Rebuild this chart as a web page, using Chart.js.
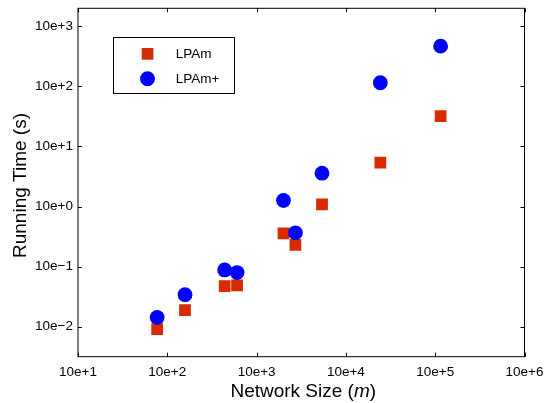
<!DOCTYPE html>
<html>
<head>
<meta charset="utf-8">
<script src="https://cdn.jsdelivr.net/npm/chart.js@4.4.0/dist/chart.umd.min.js"></script>
<style>
  html, body { margin: 0; padding: 0; background: #fff; }
  #wrap { width: 545px; height: 403px; position: relative; }
</style>
</head>
<body>
<div id="wrap"><canvas id="c" width="545" height="403"></canvas></div>
<script>
// ---- data ----
const networkSizes = [77, 158, 439, 605, 2000, 2720, 5400, 24300, 115000];
const lpamTimes = [0.0091, 0.0188, 0.0474, 0.0486, 0.357, 0.229, 1.09, 5.38, 32.0];
const lpamPlusTimes = [0.0142, 0.0341, 0.088, 0.0796, 1.26, 0.365, 3.59, 115, 468];
const seriesNames = ['LPAm', 'LPAm+'];
const xTickValues = [1e1, 1e2, 1e3, 1e4, 1e5, 1e6];
const xTickLabels = ['10e+1', '10e+2', '10e+3', '10e+4', '10e+5', '10e+6'];
const yTickValues = [1e-2, 1e-1, 1e0, 1e1, 1e2, 1e3];
const yTickLabels = ['10e\u22122', '10e\u22121', '10e+0', '10e+1', '10e+2', '10e+3'];
const xTitleParts = ['Network Size (', 'm', ')'];
const yTitle = 'Running Time (s)';

const RED = 'rgb(217,43,0)';
const BLUE = '#0000ff';
const FONT = "'Liberation Sans', Arial, Helvetica, sans-serif";

Chart.defaults.font.family = FONT;
Chart.defaults.color = '#000';

const zeroPad = () => ({left: 0, top: 0, right: 0, bottom: 0});

const frameAndTicks = {
  id: 'frameAndTicks',
  beforeDatasetsDraw(chart) {
    const {ctx, chartArea: a, scales} = chart;
    ctx.save();
    ctx.strokeStyle = '#000';
    ctx.lineWidth = 1;
    ctx.strokeRect(a.left, a.top, a.right - a.left, a.bottom - a.top);
    const L = 4;
    ctx.beginPath();
    scales.x.ticks.forEach(t => {
      const px = Math.round(scales.x.getPixelForValue(t.value)) + 0.5;
      ctx.moveTo(px, a.bottom); ctx.lineTo(px, a.bottom - L);
      ctx.moveTo(px, a.top); ctx.lineTo(px, a.top + L);
    });
    scales.y.ticks.forEach(t => {
      const py = Math.round(scales.y.getPixelForValue(t.value)) + 0.5;
      ctx.moveTo(a.left, py); ctx.lineTo(a.left + L, py);
      ctx.moveTo(a.right, py); ctx.lineTo(a.right - L, py);
    });
    ctx.stroke();
    ctx.restore();
  }
};

const boxLegend = {
  id: 'boxLegend',
  afterDraw(chart) {
    const {ctx, chartArea: a} = chart;
    ctx.save();
    ctx.fillStyle = '#fff';
    ctx.fillRect(113.5, 37.5, 121, 56);
    ctx.strokeStyle = '#000';
    ctx.lineWidth = 1;
    ctx.strokeRect(113.5, 37.5, 121, 56);
    ctx.fillStyle = RED;
    ctx.fillRect(141.7, 48, 11.7, 11.7);
    ctx.fillStyle = BLUE;
    ctx.beginPath();
    ctx.arc(147.5, 78.8, 7.5, 0, Math.PI * 2);
    ctx.fill();
    ctx.fillStyle = '#000';
    ctx.font = '13.5px ' + FONT;
    ctx.textBaseline = 'middle';
    ctx.textAlign = 'left';
    ctx.fillText(seriesNames[0], 175.7, 54.3);
    ctx.fillText(seriesNames[1], 175.7, 78.8);

    // x axis title with italic m
    const fN = '19px ' + FONT, fI = 'italic 19px ' + FONT;
    ctx.textBaseline = 'alphabetic';
    ctx.font = fN; const w0 = ctx.measureText(xTitleParts[0]).width;
    ctx.font = fI; const w1 = ctx.measureText(xTitleParts[1]).width;
    ctx.font = fN; const w2 = ctx.measureText(xTitleParts[2]).width;
    const total = w0 + w1 + w2;
    let x = (a.left + a.right) / 2 + 2 - total / 2;
    const y = 396.7;
    ctx.font = fN; ctx.fillText(xTitleParts[0], x, y); x += w0;
    ctx.font = fI; ctx.fillText(xTitleParts[1], x, y); x += w1;
    ctx.font = fN; ctx.fillText(xTitleParts[2], x, y);

    // y axis title (rotated)
    ctx.translate(26, (a.top + a.bottom) / 2 + 3);
    ctx.rotate(-Math.PI / 2);
    ctx.font = fN;
    ctx.textAlign = 'center';
    ctx.textBaseline = 'alphabetic';
    ctx.fillText(yTitle, 0, 0);
    ctx.restore();
  }
};

function pts(ys) { return networkSizes.map((x, i) => ({x: x, y: ys[i]})); }

new Chart(document.getElementById('c'), {
  type: 'scatter',
  data: {
    datasets: [
      { label: seriesNames[0], data: pts(lpamTimes), pointStyle: 'rect', pointRadius: 8.3, pointHoverRadius: 8.3,
        backgroundColor: RED, borderWidth: 0, order: 1 },
      { label: seriesNames[1], data: pts(lpamPlusTimes), pointStyle: 'circle', pointRadius: 7.4, pointHoverRadius: 7.4,
        backgroundColor: BLUE, borderWidth: 0, order: 0 }
    ]
  },
  options: {
    responsive: false,
    animation: false,
    devicePixelRatio: 1,
    layout: { padding: { top: 5, right: 20.5, left: 0, bottom: 0 } },
    plugins: { legend: { display: false }, tooltip: { enabled: false } },
    scales: {
      x: {
        type: 'logarithmic',
        min: 10, max: 1e6,
        grid: { display: false, drawTicks: false },
        border: { display: false },
        afterBuildTicks: s => { s.ticks = xTickValues.map(v => ({value: v})); },
        afterFit: s => { s.height = 46.3; s.paddingLeft = 0; s.paddingRight = 0; s.getPadding = zeroPad; },
        ticks: {
          font: { size: 13.5 },
          padding: 7,
          maxRotation: 0,
          autoSkip: false,
          callback: (v) => { const i = xTickValues.indexOf(v); return i >= 0 ? xTickLabels[i] : ''; }
        },
        title: { display: false }
      },
      y: {
        type: 'logarithmic',
        min: Math.pow(10, -2.5), max: Math.pow(10, 3.3),
        grid: { display: false, drawTicks: false },
        border: { display: false },
        afterBuildTicks: s => { s.ticks = yTickValues.map(v => ({value: v})); },
        afterFit: s => { s.width = 78; s.paddingTop = 0; s.paddingBottom = 0; s.getPadding = zeroPad; },
        ticks: {
          font: { size: 13.5 },
          padding: 5,
          autoSkip: false,
          callback: (v) => { const i = yTickValues.findIndex(t => Math.abs(Math.log10(t) - Math.log10(v)) < 1e-9); return i >= 0 ? yTickLabels[i] : ''; }
        },
        title: { display: false }
      }
    }
  },
  plugins: [frameAndTicks, boxLegend]
});
</script>
</body>
</html>
